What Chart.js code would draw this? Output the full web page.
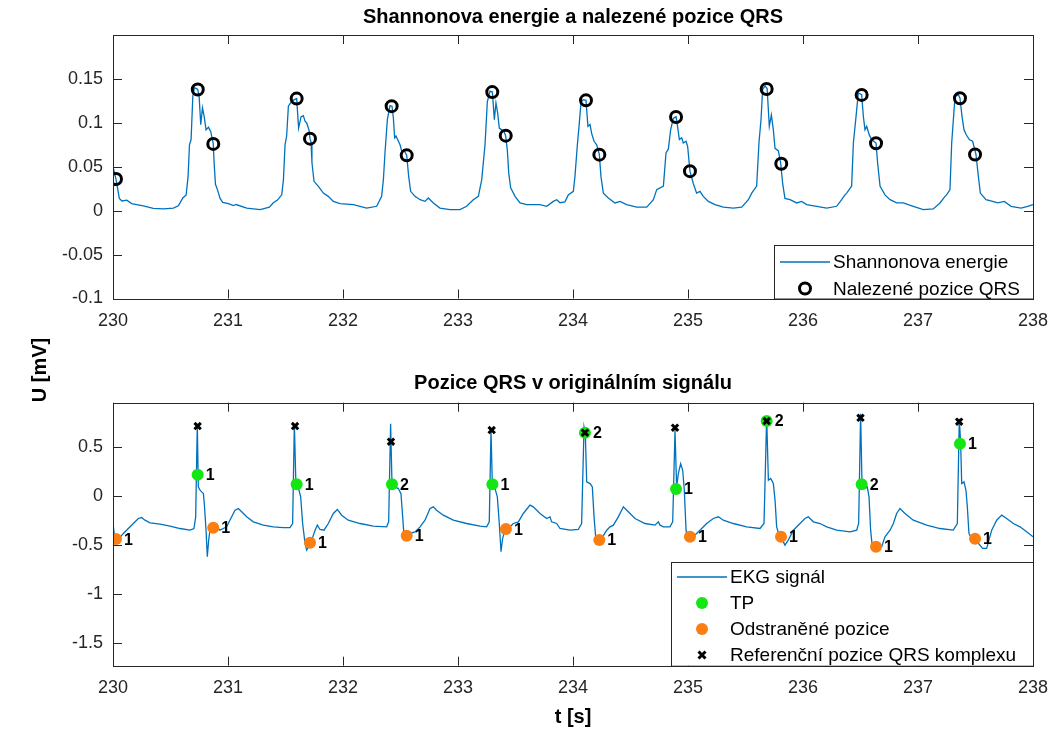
<!DOCTYPE html>
<html>
<head>
<meta charset="utf-8">
<title>Shannonova energie a pozice QRS</title>
<script src="https://cdn.jsdelivr.net/npm/chart.js@4.4.0/dist/chart.umd.min.js"></script>
<style>
  html, body { margin: 0; padding: 0; background: #fff; }
  #wrap { position: relative; width: 1050px; height: 731px; }
  #wrap canvas { position: absolute; left: 0; top: 0; }
</style>
</head>
<body>
<div id="wrap">
  <canvas id="energyChart" width="1050" height="731"></canvas>
  <canvas id="ekgChart" width="1050" height="731"></canvas>
</div>
<script>
// ---- data ----
const xTicks = [230, 231, 232, 233, 234, 235, 236, 237, 238];
const energyYTicks = [-0.1, -0.05, 0, 0.05, 0.1, 0.15];
const ekgYTicks = [-1.5, -1, -0.5, 0, 0.5];

// Shannon energy envelope
const energyT = [
  230.000,230.026,230.055,230.078,230.120,230.162,230.206,230.264,230.350,230.438,230.525,230.568,
  230.583,230.607,230.636,230.653,230.665,230.679,230.694,230.708,230.725,230.737,230.749,230.763,230.778,230.792,230.809,230.830,230.850,230.866,230.872,230.879,230.891,230.908,230.931,230.954,231.004,231.047,231.070,231.163,231.280,231.360,
  231.394,231.430,231.467,231.482,231.496,231.510,231.525,231.554,231.577,231.597,231.614,231.635,231.655,231.670,231.684,231.704,231.713,231.722,231.730,231.748,231.786,231.829,231.872,231.916,231.974,232.090,232.206,232.293,
  232.336,232.351,232.365,232.386,232.409,232.426,232.438,232.449,232.461,232.475,232.496,232.510,232.530,232.554,232.571,232.588,232.626,232.670,232.713,232.742,232.786,232.843,232.930,233.017,233.075,233.133,
  233.177,233.206,233.235,233.255,233.278,233.299,233.316,233.330,233.345,233.359,233.380,233.400,233.414,233.429,233.441,233.458,233.496,233.539,233.597,233.655,233.713,233.771,233.829,233.858,233.887,233.930,233.959,234.003,
  234.017,234.038,234.055,234.070,234.090,234.113,234.130,234.148,234.162,234.183,234.206,234.229,234.243,234.264,234.307,234.365,234.409,234.467,234.554,234.641,234.699,234.728,
  234.786,234.809,234.829,234.849,234.872,234.896,234.907,234.925,234.945,234.959,234.983,234.997,235.017,235.046,235.075,235.104,235.133,235.177,235.235,235.307,235.394,235.467,235.525,235.554,
  235.597,235.617,235.635,235.649,235.670,235.688,235.707,235.725,235.742,235.757,235.786,235.806,235.823,235.843,235.887,235.945,235.988,236.032,236.119,236.206,236.293,236.336,236.365,
  236.380,236.423,236.438,236.461,236.481,236.510,236.525,236.539,236.554,236.577,236.597,236.635,236.649,236.670,236.713,236.757,236.815,236.872,236.959,237.046,237.133,237.191,237.235,
  237.249,237.278,237.293,237.322,237.351,237.365,237.383,237.400,237.417,237.446,237.475,237.504,237.525,237.542,237.591,237.649,237.693,237.751,237.809,237.896,237.954,238.000
];
const energyV = [
  0.050,0.036,0.014,0.011,0.012,0.008,0.007,0.0055,0.0027,0.002,0.003,0.0055,
  0.0088,0.0144,0.018,0.039,0.075,0.081,0.130,0.140,0.139,0.138,0.130,0.098,0.117,0.108,0.092,0.095,0.090,0.080,0.076,0.055,0.030,0.024,0.014,0.0095,0.008,0.0057,0.007,0.003,0.0012,0.004,
  0.009,0.012,0.018,0.035,0.075,0.085,0.119,0.1245,0.1264,0.1276,0.094,0.1067,0.1082,0.1018,0.0999,0.092,0.082,0.078,0.0548,0.0334,0.0277,0.0201,0.0163,0.0106,0.008,0.0069,0.003,0.005,
  0.0163,0.035,0.0657,0.104,0.1196,0.119,0.1055,0.083,0.085,0.081,0.075,0.068,0.069,0.063,0.039,0.022,0.0163,0.0125,0.0106,0.0144,0.0088,0.003,0.0012,0.0012,0.005,0.0125,
  0.0163,0.035,0.075,0.124,0.136,0.135,0.1036,0.1226,0.111,0.094,0.092,0.090,0.0854,0.069,0.043,0.026,0.0163,0.0088,0.0069,0.0069,0.0069,0.005,0.0106,0.0125,0.009,0.010,0.018,0.022,
  0.039,0.075,0.100,0.124,0.1264,0.1256,0.096,0.098,0.088,0.079,0.075,0.064,0.039,0.020,0.0144,0.0088,0.0106,0.0069,0.004,0.004,0.0125,0.024,
  0.028,0.066,0.070,0.092,0.105,0.107,0.098,0.081,0.083,0.077,0.079,0.073,0.045,0.031,0.020,0.022,0.0163,0.0106,0.0069,0.004,0.003,0.004,0.0125,0.020,
  0.028,0.077,0.104,0.138,0.142,0.139,0.096,0.109,0.092,0.071,0.068,0.054,0.031,0.014,0.0125,0.0088,0.0106,0.0069,0.005,0.003,0.005,0.0125,0.018,
  0.020,0.028,0.077,0.107,0.134,0.132,0.107,0.092,0.096,0.086,0.081,0.077,0.054,0.028,0.018,0.0125,0.0088,0.0088,0.005,0.0012,0.002,0.0088,0.0163,
  0.018,0.024,0.077,0.130,0.132,0.128,0.107,0.092,0.087,0.081,0.079,0.064,0.039,0.020,0.0125,0.0106,0.0088,0.0106,0.005,0.003,0.005,0.007
];

// found QRS positions (black rings)
const foundT = [230.026, 230.737, 230.872, 231.597, 231.713, 232.423, 232.554, 233.298, 233.415, 234.113,
                234.229, 234.896, 235.017, 235.684, 235.811, 236.510, 236.635, 237.365, 237.496];
const foundV = [0.036, 0.138, 0.076, 0.1276, 0.082, 0.119, 0.063, 0.135, 0.0854, 0.1256,
                0.0638, 0.1067, 0.045, 0.1386, 0.0535, 0.1318, 0.0767, 0.128, 0.064];

// ECG signal
const ekgT = [
  230.000,230.017,230.046,230.090,230.133,230.177,230.220,230.249,230.278,230.322,230.409,230.496,230.583,230.670,230.704,
  230.719,230.733,230.742,230.757,230.771,230.786,230.794,230.809,230.820,230.832,230.843,230.872,230.901,230.930,230.959,230.988,231.032,231.061,231.090,231.119,231.162,231.220,231.307,231.394,231.481,231.539,231.562,
  231.577,231.591,231.614,231.632,231.649,231.670,231.684,231.701,231.728,231.757,231.777,231.800,231.835,231.872,231.916,231.951,231.988,232.046,232.148,232.264,232.380,232.397,
  232.414,232.426,232.452,232.481,232.504,232.519,232.533,232.554,232.583,232.626,232.670,232.713,232.757,232.786,232.814,232.872,232.959,233.075,233.191,233.249,233.272,
  233.287,233.299,233.322,233.342,233.359,233.374,233.388,233.409,233.438,233.481,233.525,233.568,233.626,233.655,233.713,233.771,233.800,233.814,233.858,233.887,233.974,234.046,234.075,
  234.096,234.107,234.119,234.148,234.168,234.183,234.197,234.220,234.249,234.293,234.322,234.351,234.394,234.438,234.481,234.539,234.626,234.713,234.742,234.757,234.786,234.843,234.867,
  234.887,234.901,234.916,234.936,234.954,234.968,234.983,234.997,235.032,235.061,235.104,235.162,235.220,235.264,235.307,235.394,235.510,235.626,235.661,
  235.684,235.699,235.719,235.742,235.757,235.771,235.788,235.814,235.843,235.872,235.916,235.974,236.017,236.046,236.090,236.148,236.206,236.293,236.409,236.467,236.484,
  236.501,236.513,236.539,236.559,236.574,236.588,236.603,236.641,236.684,236.713,236.757,236.786,236.814,236.843,236.887,236.959,237.075,237.191,237.307,237.342,
  237.359,237.371,237.380,237.400,237.417,237.429,237.443,237.481,237.525,237.562,237.597,237.641,237.684,237.728,237.771,237.829,237.887,237.945,238.000
];
const ekgV = [
  -0.28,-0.45,-0.443,-0.382,-0.332,-0.281,-0.230,-0.220,-0.247,-0.274,-0.288,-0.308,-0.332,-0.349,-0.332,
  -0.213,0.736,0.092,0.058,0.041,0.024,-0.078,-0.349,-0.62,-0.45,-0.349,-0.332,-0.315,-0.349,-0.332,-0.315,-0.213,-0.145,-0.128,-0.162,-0.213,-0.264,-0.298,-0.315,-0.322,-0.322,-0.281,
  0.736,0.092,0.075,-0.010,-0.281,-0.484,-0.552,-0.518,-0.45,-0.349,-0.298,-0.342,-0.349,-0.281,-0.179,-0.138,-0.196,-0.247,-0.281,-0.308,-0.315,-0.264,
  0.736,0.126,0.092,0.075,0.024,-0.213,-0.45,-0.433,-0.382,-0.366,-0.315,-0.247,-0.128,-0.111,-0.145,-0.196,-0.247,-0.281,-0.308,-0.315,-0.264,
  0.668,0.092,0.075,-0.010,-0.281,-0.569,-0.433,-0.349,-0.332,-0.281,-0.264,-0.179,-0.094,-0.111,-0.179,-0.230,-0.213,-0.264,-0.281,-0.332,-0.349,-0.342,-0.281,
  0.702,0.634,0.143,0.126,0.092,-0.213,-0.416,-0.45,-0.433,-0.349,-0.315,-0.298,-0.213,-0.111,-0.162,-0.230,-0.281,-0.298,-0.264,-0.298,-0.315,-0.315,-0.264,
  0.668,0.092,0.227,0.329,0.261,0.058,-0.349,-0.433,-0.433,-0.399,-0.349,-0.281,-0.230,-0.213,-0.247,-0.281,-0.315,-0.332,-0.281,
  0.803,0.160,0.177,0.126,-0.044,-0.315,-0.382,-0.433,-0.501,-0.45,-0.349,-0.281,-0.230,-0.213,-0.264,-0.281,-0.315,-0.349,-0.366,-0.349,-0.281,
  0.837,0.126,0.075,0.092,-0.010,-0.349,-0.518,-0.535,-0.518,-0.416,-0.349,-0.281,-0.179,-0.128,-0.179,-0.247,-0.298,-0.332,-0.349,-0.281,
  0.786,0.532,0.126,0.143,0.058,-0.111,-0.382,-0.467,-0.484,-0.535,-0.535,-0.349,-0.247,-0.196,-0.230,-0.281,-0.315,-0.366,-0.416
];

// true positives (green) with their counts
const tpT = [230.736, 231.597, 232.426, 233.299, 234.104, 234.896, 235.684, 236.510, 237.365];
const tpV = [0.217, 0.119, 0.119, 0.119, 0.644, 0.071, 0.763, 0.119, 0.532];
const tpLabels = ['1', '1', '2', '1', '2', '1', '2', '2', '1'];

// removed positions (orange)
const removedT = [230.026, 230.872, 231.713, 232.554, 233.417, 234.229, 235.017, 235.809, 236.635, 237.496];
const removedV = [-0.44, -0.325, -0.477, -0.406, -0.338, -0.45, -0.416, -0.416, -0.518, -0.437];
const removedLabels = ['1', '1', '1', '1', '1', '1', '1', '1', '1', '1'];

// reference QRS annotations (black crosses)
const refT = [230.736, 231.583, 232.417, 233.293, 234.104, 234.887, 235.684, 236.500, 237.358];
const refV = [0.712, 0.712, 0.553, 0.671, 0.644, 0.695, 0.763, 0.796, 0.756];

// ---- styling ----
const FONT = "'Liberation Sans', Arial, Helvetica, sans-serif";
const INK = '#262626';
const BLUE = '#0072BD';
const GREEN = '#14e614';
const ORANGE = '#fb7e12';

const pts = (ts, vs) => ts.map((t, i) => ({ x: t, y: vs[i] }));

// MATLAB-like box with inward ticks on all four sides
const framePlugin = {
  id: 'frame',
  afterDatasetsDraw(chart) {
    const { ctx, chartArea: a, scales: { x, y } } = chart;
    const L = 9;
    ctx.save();
    ctx.strokeStyle = INK;
    ctx.lineWidth = 1;
    ctx.beginPath();
    x.ticks.forEach(t => {
      const px = Math.round(x.getPixelForValue(t.value)) + 0.5;
      ctx.moveTo(px, a.bottom); ctx.lineTo(px, a.bottom - L);
      ctx.moveTo(px, a.top); ctx.lineTo(px, a.top + L);
    });
    y.ticks.forEach(t => {
      const py = Math.round(y.getPixelForValue(t.value)) + 0.5;
      ctx.moveTo(a.left, py); ctx.lineTo(a.left + L, py);
      ctx.moveTo(a.right, py); ctx.lineTo(a.right - L, py);
    });
    ctx.stroke();
    ctx.strokeRect(Math.round(a.left) + 0.5, Math.round(a.top) + 0.5,
                   Math.round(a.right - a.left), Math.round(a.bottom - a.top));
    ctx.restore();
  }
};

function drawMarker(ctx, kind, color, x, y) {
  ctx.save();
  if (kind === 'line') {
    ctx.strokeStyle = color; ctx.lineWidth = 1.3;
    ctx.beginPath(); ctx.moveTo(x - 25, y); ctx.lineTo(x + 25, y); ctx.stroke();
  } else if (kind === 'ring') {
    ctx.strokeStyle = color; ctx.lineWidth = 3;
    ctx.beginPath(); ctx.arc(x, y, 5.5, 0, Math.PI * 2); ctx.stroke();
  } else if (kind === 'dot') {
    ctx.fillStyle = color;
    ctx.beginPath(); ctx.arc(x, y, 6, 0, Math.PI * 2); ctx.fill();
  } else if (kind === 'cross') {
    ctx.strokeStyle = color; ctx.lineWidth = 3;
    ctx.beginPath();
    ctx.moveTo(x - 3.5, y - 3.5); ctx.lineTo(x + 3.5, y + 3.5);
    ctx.moveTo(x + 3.5, y - 3.5); ctx.lineTo(x - 3.5, y + 3.5);
    ctx.stroke();
  }
  ctx.restore();
}

// titles, point counts, legend box, axis titles
const decorPlugin = {
  id: 'decor',
  afterDraw(chart, args, opts) {
    const { ctx, chartArea: a, scales: { x, y } } = chart;
    ctx.save();
    ctx.fillStyle = '#000';
    ctx.textBaseline = 'middle';

    ctx.font = 'bold 20px ' + FONT;
    ctx.textAlign = 'center';
    ctx.fillText(opts.title, (a.left + a.right) / 2, opts.titleY);

    (opts.texts || []).forEach(t => {
      ctx.save();
      ctx.font = t.font;
      ctx.translate(t.x, t.y);
      if (t.rotate) ctx.rotate(t.rotate);
      ctx.fillText(t.text, 0, 0);
      ctx.restore();
    });

    ctx.font = 'bold 16px ' + FONT;
    ctx.textAlign = 'left';
    (opts.pointLabels || []).forEach(set => {
      set.t.forEach((t, i) => {
        ctx.fillText(set.labels[i], x.getPixelForValue(t) + 8, y.getPixelForValue(set.v[i]) + 1);
      });
    });

    const lg = opts.legend;
    ctx.fillStyle = '#fff';
    ctx.fillRect(lg.x, lg.y, lg.w, lg.h);
    ctx.strokeStyle = INK;
    ctx.lineWidth = 1;
    ctx.strokeRect(lg.x + 0.5, lg.y + 0.5, lg.w, lg.h);
    ctx.font = '19px ' + FONT;
    lg.rows.forEach((r, i) => {
      const cy = lg.firstY + i * lg.step;
      drawMarker(ctx, r.kind, r.color, lg.x + 31, cy);
      ctx.fillStyle = '#000';
      ctx.fillText(r.text, lg.x + 59, cy + 1);
    });
    ctx.restore();
  }
};

function xAxis(height) {
  return {
    type: 'linear', min: 230, max: 238,
    afterBuildTicks: s => { s.ticks = xTicks.map(v => ({ value: v })); },
    // fixed height, and no extra side room for the end labels
    afterFit: s => { s.height = height; s.paddingLeft = 0; s.paddingRight = 0; },
    grid: { display: false, drawTicks: false },
    border: { display: false },
    ticks: { padding: 12, color: INK, maxRotation: 0, autoSkip: false,
             font: { family: FONT, size: 18 }, callback: v => String(v) }
  };
}
function yAxis(min, max, list) {
  return {
    type: 'linear', min: min, max: max,
    afterBuildTicks: s => { s.ticks = list.map(v => ({ value: v })); },
    afterFit: s => { s.width = 113; s.paddingTop = 0; s.paddingBottom = 0; },
    grid: { display: false, drawTicks: false },
    border: { display: false },
    ticks: { padding: 10, color: INK, autoSkip: false,
             font: { family: FONT, size: 18 }, callback: v => String(v) }
  };
}

Chart.defaults.font.family = FONT;

// Chart 1: Shannon energy
new Chart(document.getElementById('energyChart'), {
  type: 'scatter',
  data: {
    datasets: [{
      label: 'Nalezené pozice QRS',
      data: pts(foundT, foundV),
      pointStyle: 'circle', pointRadius: 5.5, borderWidth: 3,
      borderColor: '#000', backgroundColor: 'rgba(0,0,0,0)', order: 0
    }, {
      label: 'Shannonova energie',
      data: pts(energyT, energyV),
      showLine: true, pointRadius: 0, borderWidth: 1.3,
      borderColor: BLUE, backgroundColor: BLUE, order: 1
    }]
  },
  options: {
    responsive: false, animation: false, events: [],
    layout: { padding: { left: 0, right: 17, top: 35, bottom: 392.5 } },
    scales: { x: xAxis(40), y: yAxis(-0.1, 0.2, energyYTicks) },
    plugins: {
      legend: { display: false }, tooltip: { enabled: false },
      decor: {
        title: 'Shannonova energie a nalezené pozice QRS', titleY: 17,
        legend: { x: 774, y: 245, w: 259, h: 53.5, firstY: 262, step: 26.5,
          rows: [{ kind: 'line', color: BLUE, text: 'Shannonova energie' },
                 { kind: 'ring', color: '#000', text: 'Nalezené pozice QRS' }] }
      }
    }
  },
  plugins: [framePlugin, decorPlugin]
});

// Chart 2: ECG with detections
new Chart(document.getElementById('ekgChart'), {
  type: 'scatter',
  data: {
    datasets: [{
      label: 'Referenční pozice QRS komplexu',
      data: pts(refT, refV),
      pointStyle: 'crossRot', pointRadius: 4.5, borderWidth: 3,
      borderColor: '#000', backgroundColor: '#000', order: 0
    }, {
      label: 'TP',
      data: pts(tpT, tpV),
      pointStyle: 'circle', pointRadius: 6, borderWidth: 0,
      backgroundColor: GREEN, borderColor: GREEN, order: 1
    }, {
      label: 'Odstraněné pozice',
      data: pts(removedT, removedV),
      pointStyle: 'circle', pointRadius: 6, borderWidth: 0,
      backgroundColor: ORANGE, borderColor: ORANGE, order: 2
    }, {
      label: 'EKG signál',
      data: pts(ekgT, ekgV),
      showLine: true, pointRadius: 0, borderWidth: 1.3,
      borderColor: BLUE, backgroundColor: BLUE, order: 3
    }]
  },
  options: {
    responsive: false, animation: false, events: [],
    layout: { padding: { left: 0, right: 17, top: 402.7, bottom: 0 } },
    scales: { x: xAxis(65.3), y: yAxis(-1.73, 0.95, ekgYTicks) },
    plugins: {
      legend: { display: false }, tooltip: { enabled: false },
      decor: {
        title: 'Pozice QRS v originálním signálu', titleY: 383,
        texts: [
          { text: 't [s]', font: 'bold 20px ' + FONT, x: 573, y: 717 },
          { text: 'U [mV]', font: 'bold 20px ' + FONT, x: 40, y: 370, rotate: -Math.PI / 2 }
        ],
        pointLabels: [
          { t: tpT, v: tpV, labels: tpLabels },
          { t: removedT, v: removedV, labels: removedLabels }
        ],
        legend: { x: 671, y: 562, w: 362, h: 103.7, firstY: 577, step: 26,
          rows: [{ kind: 'line', color: BLUE, text: 'EKG signál' },
                 { kind: 'dot', color: GREEN, text: 'TP' },
                 { kind: 'dot', color: ORANGE, text: 'Odstraněné pozice' },
                 { kind: 'cross', color: '#000', text: 'Referenční pozice QRS komplexu' }] }
      }
    }
  },
  plugins: [framePlugin, decorPlugin]
});
</script>
</body>
</html>
